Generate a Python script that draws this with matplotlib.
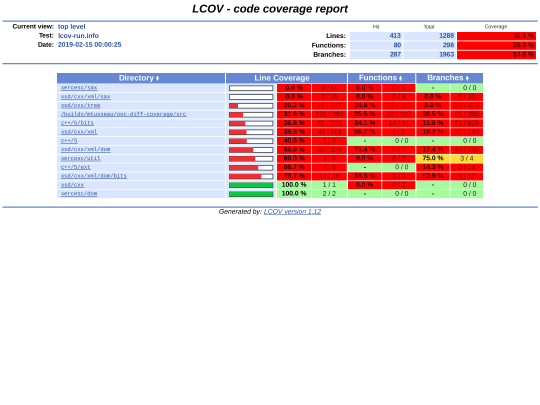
#!/usr/bin/env python3
"""LCOV top level report page redrawn in pixel coordinates"""
import io
import matplotlib
matplotlib.use('Agg')
import matplotlib.pyplot as plt
from matplotlib.patches import Rectangle

plt.rcParams['text.hinting'] = 'no_hinting'
plt.rcParams['text.hinting_factor'] = 1

C = {
    'rule': '#6688d4', 'head': '#6688d4', 'name': '#dae7fe', 'val': '#284fa8',
    'red': '#ff0000', 'yellow': '#ffdc30', 'green': '#a7fc9d',
    'bar_red': '#ee3030', 'bar_green': '#10c840',
}
SANS = 'Liberation Sans'
MONO = 'Liberation Mono'
SS = 4  # liberation snaps to whole ppem, so draw big and shrink

info_labels = ['Current view:', 'Test:', 'Date:']
info_values = ['top level', 'lcov-run.info', '2019-02-15 00:00:25']

summary_labels = ['Lines:', 'Functions:', 'Branches:']
summary_hit = [413, 80, 287]
summary_total = [1288, 298, 1963]
summary_pct = [32.1, 26.8, 14.6]

dirs = ['xercesc/sax', 'xsd/cxx/xml/sax', 'xsd/cxx/tree',
        '/builds/mtusseau/ooc-diff-coverage/src', 'c++/5/bits', 'xsd/cxx/xml',
        'c++/5', 'xsd/cxx/xml/dom', 'xercesc/util', 'c++/5/ext',
        'xsd/cxx/xml/dom/bits', 'xsd/cxx', 'xercesc/dom']
line_pct = [0.0, 0.0, 20.2, 31.6, 36.6, 39.8, 40.0, 55.0, 60.0, 66.7, 73.7, 100.0, 100.0]
line_hit = [0, 0, 76, 121, 85, 45, 2, 60, 3, 4, 14, 1, 2]
line_total = [11, 25, 377, 383, 232, 113, 5, 109, 5, 6, 19, 1, 2]
func_pct = [0.0, 0.0, 24.8, 25.5, 34.1, 66.7, None, 71.4, 0.0, None, 33.3, 0.0, None]
func_hit = [0, 0, 28, 28, 14, 4, 0, 5, 0, 0, 1, 0, 0]
func_total = [5, 9, 113, 110, 41, 6, 0, 7, 2, 0, 3, 2, 0]
branch_pct = [None, 0.0, 8.0, 28.5, 11.0, 18.2, None, 17.4, 75.0, 14.3, 52.9, None, None]
branch_hit = [0, 0, 33, 82, 91, 26, 0, 41, 3, 2, 9, 0, 0]
branch_total = [0, 20, 413, 288, 828, 143, 0, 236, 4, 14, 17, 0, 0]

W, H = 540, 405
fig = plt.figure(figsize=(W / 100, H / 100), dpi=100 * SS)
ax = fig.add_axes([0, 0, 1, 1])
ax.set_xlim(0, W)
ax.set_ylim(H, 0)
ax.axis('off')


def cell(x0, x1, y0, y1, color):
    ax.add_patch(Rectangle((x0, y0), x1 - x0, y1 - y0, fc=color, ec='none', zorder=1, snap=False))


def txt(x, y, s, size=4.86, color='black', ha='center', weight='normal', family=SANS, style='normal'):
    return ax.text(x, y, s, fontsize=size, color=color, ha=ha, va='center', fontweight=weight,
                   family=family, fontstyle=style, zorder=3)


def extent(t):
    return t.get_window_extent(fig.canvas.get_renderer()).transformed(ax.transData.inverted())


def underline(t, y, color):
    box = extent(t)
    ax.plot([box.x0, box.x1], [y, y], color=color, linewidth=0.35, zorder=3)


def level(pct):
    if pct is None or pct >= 90:
        return C['green']
    return C['yellow'] if pct >= 75 else C['red']


def ink(pct):
    return 'black' if level(pct) != C['red'] else '#200000'


def count_ink(pct):
    return '#202020' if level(pct) != C['red'] else '#800000'


# title and rules
txt(270, 9.5, 'LCOV - code coverage report', size=8.14, weight='bold', style='italic')
for y in (21, 63.5, 207):
    ax.plot([3, 537], [y, y], color=C['rule'], linewidth=0.9, zorder=2)

# header block
for i, (lab, val) in enumerate(zip(info_labels, info_values)):
    y = 27 + i * 9.1
    txt(54, y, lab, ha='right', weight='bold', size=4.74)
    txt(58, y, val, ha='left', weight='bold', color=C['val'], size=4.81)

for x, lab in zip((376, 429, 496), ('Hit', 'Total', 'Coverage')):
    txt(x, 27, lab, size=3.85, color='#333333')
for i, lab in enumerate(summary_labels):
    y0 = 32 + i * 9.35
    y1 = y0 + 8.5
    ym = (y0 + y1) / 2
    txt(346, ym, lab, ha='right', weight='bold')
    cell(350, 402.6, y0, y1, C['name'])
    cell(403.5, 456, y0, y1, C['name'])
    cell(457, 536, y0, y1, C['red'])
    txt(401, ym, str(summary_hit[i]), ha='right', weight='bold', color=C['val'])
    txt(454, ym, str(summary_total[i]), ha='right', weight='bold', color=C['val'])
    txt(534, ym, f'{summary_pct[i]} %', ha='right', weight='bold', color='#200000')

# table header
head_cols = [(57, 225, 'Directory', 136.5), (226, 347, 'Line Coverage', 282),
             (348, 415.3, 'Functions', 378), (416.3, 483, 'Branches', 445.5)]
for x0, x1, lab, xm in head_cols:
    cell(x0, x1, 73, 83.5, C['head'])
    t = txt(xm, 78.2, lab, size=5.85, weight='bold', color='white')
    if lab != 'Line Coverage':
        box = extent(t)
        ax.plot([box.x1 + 3.5], [76.9], marker='^', ms=2.2, color='white', mew=0, zorder=3)
        ax.plot([box.x1 + 3.5], [79.5], marker='v', ms=2.2, color='white', mew=0, zorder=3)

# table rows
triples = [
    (line_pct, line_hit, line_total, (277, 311.3), (312, 346.8)),
    (func_pct, func_hit, func_total, (348, 381.5), (382.2, 415.3)),
    (branch_pct, branch_hit, branch_total, (416.3, 449.7), (450.4, 483)),
]
ROW = 8.83
for i, name in enumerate(dirs):
    y0 = 84 + i * ROW
    y1 = y0 + ROW - 0.7
    ym = (y0 + y1) / 2
    cell(57, 225, y0, y1, C['name'])
    t = txt(61, ym, name, size=3.95, ha='left', family=MONO, color=C['val'])
    underline(t, ym + 2.3, C['val'])

    # coverage bar
    cell(226, 276, y0, y1, C['name'])
    bx0, bx1 = 229.3, 272.7
    pct = line_pct[i]
    ax.add_patch(Rectangle((bx0, ym - 2.4), bx1 - bx0, 4.8, fc='white', ec='#333333', lw=0.5, zorder=2.6))
    fill = C['bar_green'] if pct >= 90 else C['bar_red']
    ax.add_patch(Rectangle((bx0, ym - 2.4), (bx1 - bx0) * pct / 100, 4.8, fc=fill, ec='none', zorder=2.7))

    for pcts, hits, totals, pcol, ccol in triples:
        p = pcts[i]
        cell(pcol[0], pcol[1], y0, y1, level(p))
        cell(ccol[0], ccol[1], y0, y1, level(p))
        label = '-' if p is None else f'{p:.1f} %'
        txt(sum(pcol) / 2, ym, label, weight='bold', color=ink(p))
        txt(sum(ccol) / 2 + 3 if p is None else sum(ccol) / 2, ym, f'{hits[i]} / {totals[i]}',
            color=count_ink(p))

# footer
t1 = txt(219, 212, 'Generated by: ', size=4.84, ha='left', style='italic')
t2 = txt(264, 212, 'LCOV version 1.12', size=4.84, ha='left', style='italic', color=C['val'])
underline(t2, 214.6, C['val'])

buf = io.BytesIO()
fig.savefig(buf, dpi=100 * SS, facecolor='white', format='png')
buf.seek(0)
big = plt.imread(buf)[:, :, :3]
small = big[:H * SS, :W * SS].reshape(H, SS, W, SS, 3).mean(axis=(1, 3))
plt.imsave('out.png', small)
